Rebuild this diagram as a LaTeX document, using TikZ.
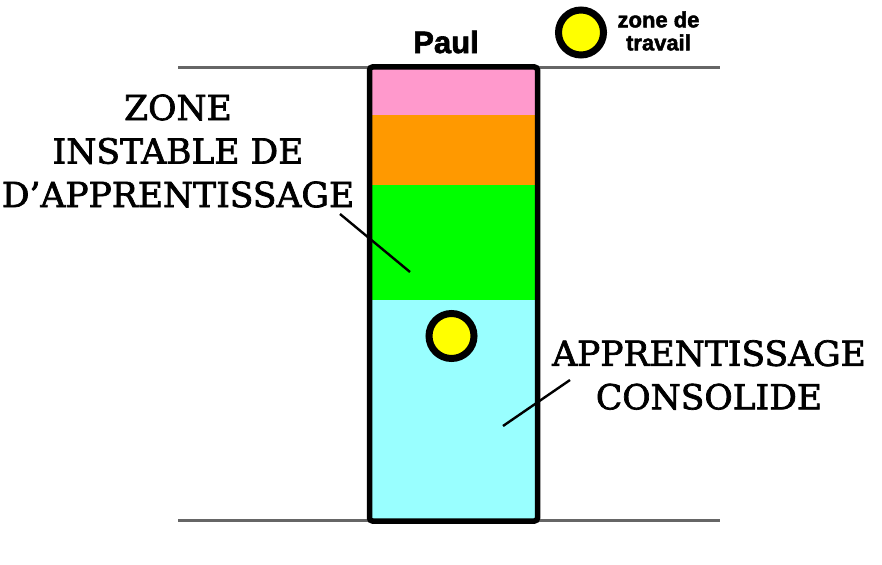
\documentclass[tikz,border=0pt]{standalone}
\usepackage{fontspec}
\setmainfont{DejaVu Serif}[FakeBold=2]
\newfontfamily\labsans{Liberation Sans}[FakeBold=2]
\definecolor{cpink}{HTML}{FF99CC}
\definecolor{corange}{HTML}{FF9900}
\definecolor{cgreen}{HTML}{00FF00}
\definecolor{ccyan}{HTML}{99FFFF}
\definecolor{cyel}{HTML}{FFFF00}
\definecolor{cgray}{HTML}{666666}
\begin{document}
\begin{tikzpicture}[x=1pt,y=-1pt,
  guide/.style={cgray,line width=3pt},
  marker/.style={circle,draw=black,fill=cyel,line width=7pt,minimum size=45pt,inner sep=0pt},
  bigtext/.style={font=\fontsize{34.5}{43.5}\selectfont,align=center,inner sep=0pt},
  pointer/.style={black,line width=2.4pt}]
\useasboundingbox (0,0) rectangle (882,564);
% guide lines
\coordinate (tl) at (178,68); \coordinate (tr) at (720,68);
\coordinate (bl) at (178,520); \coordinate (br) at (720,520);
\draw[guide] (tl) -- (tr);
\draw[guide] (bl) -- (br);
% bands
\fill[cpink] (369.5,68) rectangle (537.5,115);
\fill[corange] (369.5,115) rectangle (537.5,185);
\fill[cgreen] (369.5,185) rectangle (537.5,300);
\fill[ccyan] (369.5,300) rectangle (537.5,521);
% box border
\draw[line width=5.5pt,rounded corners=3pt] (369.5,67) rectangle (537.5,521);
% markers
\node[marker] (m1) at (451.5,336) {};
\node[marker] (m2) at (581,32.5) {};
% texts
\node[font=\labsans\bfseries\fontsize{31}{36}\selectfont,inner sep=0pt] (paul) at (446,42) {Paul};
\node[font=\labsans\bfseries\fontsize{22}{23}\selectfont,align=center,inner sep=0pt] (zt) at (658.5,31) {zone de\\travail};
\node[bigtext] (zi) at (178,151) {ZONE\\INSTABLE DE\\D’APPRENTISSAGE};
\node[bigtext] (ac) at (709,375) {APPRENTISSAGE\\CONSOLIDE};
% pointers
\coordinate (p1a) at (340,214); \coordinate (p1b) at (410,272);
\coordinate (p2a) at (570,380); \coordinate (p2b) at (503,426);
\draw[pointer] (p1a) -- (p1b);
\draw[pointer] (p2a) -- (p2b);
\end{tikzpicture}
\end{document}
